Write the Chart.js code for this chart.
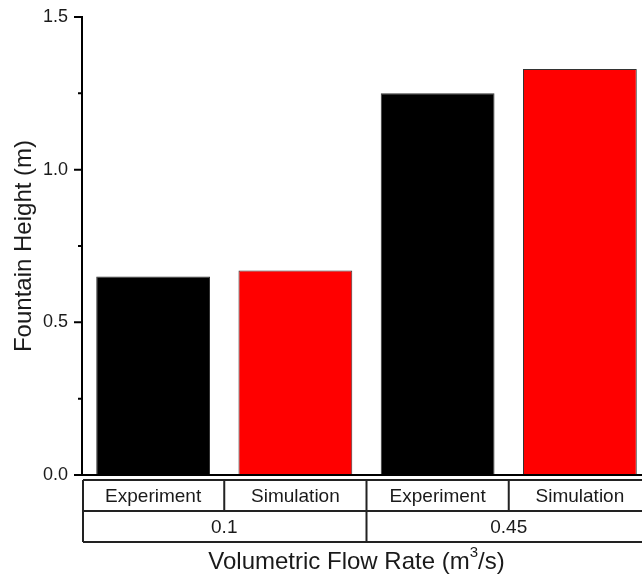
<!DOCTYPE html>
<html lang="en">
<head>
  <meta charset="UTF-8" />
  <title>Fountain Height vs Volumetric Flow Rate</title>
  <style>
    html, body { margin:0; padding:0; background:#fff; overflow:hidden; }
    #wrap { width:660px; height:577px; }
  </style>
  <script src="https://cdn.jsdelivr.net/npm/chart.js"></script>
</head>
<body>
<div id="wrap"><canvas id="chart" width="660" height="577"></canvas></div>
<script>
  // data
  const categories = ['Experiment', 'Simulation', 'Experiment', 'Simulation'];
  const flowRates = ['0.1', '0.45'];
  const heights = [0.65, 0.67, 1.25, 1.33];
  const barColors = ['#000000', '#ff0000', '#000000', '#ff0000'];
  const majorTicks = [0, 0.5, 1, 1.5];
  const minorTicks = [0.25, 0.75, 1.25];

  const FONT = '"Liberation Sans", Arial, sans-serif';
  const INK = '#1a1a1a';

  // axis line, tick marks, x baseline and the two-row category table under the plot
  const tablePlugin = {
    id: 'tableAxis',
    afterDraw(chart) {
      const ctx = chart.ctx, x = chart.scales.x, y = chart.scales.y, a = chart.chartArea;
      const y0 = y.getPixelForValue(0);
      ctx.save();
      ctx.strokeStyle = '#000'; ctx.lineWidth = 2;
      ctx.beginPath();
      ctx.moveTo(a.left, y.getPixelForValue(1.5) - 1); ctx.lineTo(a.left, y0);
      ctx.moveTo(a.left, y0); ctx.lineTo(a.right, y0);
      majorTicks.forEach(v => {
        const py = y.getPixelForValue(v);
        ctx.moveTo(a.left - 8, py); ctx.lineTo(a.left, py);
      });
      minorTicks.forEach(v => {
        const py = y.getPixelForValue(v);
        ctx.moveTo(a.left - 4, py); ctx.lineTo(a.left, py);
      });
      ctx.stroke();

      const cw = (x.right - x.left) / categories.length;
      const top = y0 + 5, mid = top + 31, bot = mid + 31;
      const left = a.left + 1, right = x.right;
      ctx.strokeStyle = '#222'; ctx.lineWidth = 2;
      ctx.beginPath();
      [top, mid, bot].forEach(r => { ctx.moveTo(left, r); ctx.lineTo(right, r); });
      ctx.moveTo(left, top); ctx.lineTo(left, bot);
      categories.forEach((c, i) => {
        if (i === 0) return;
        const bx = x.getPixelForValue(i) - cw / 2;
        ctx.moveTo(bx, top); ctx.lineTo(bx, i % 2 === 0 ? bot : mid);
      });
      ctx.stroke();
      ctx.fillStyle = INK; ctx.textAlign = 'center'; ctx.textBaseline = 'middle';
      ctx.font = '19px ' + FONT;
      categories.forEach((c, i) => ctx.fillText(c, x.getPixelForValue(i), (top + mid) / 2 + 1));
      flowRates.forEach((g, j) => {
        const cx = (x.getPixelForValue(2 * j) + x.getPixelForValue(2 * j + 1)) / 2;
        ctx.fillText(g, cx, (mid + bot) / 2 + 1);
      });
      // axis title with superscript
      ctx.font = '24px ' + FONT;
      const t1 = 'Volumetric Flow Rate (m', t2 = '3', t3 = '/s)';
      const w1 = ctx.measureText(t1).width, w3 = ctx.measureText(t3).width;
      ctx.font = '15px ' + FONT;
      const w2 = ctx.measureText(t2).width;
      const cx = (a.left + x.right) / 2 - 10, ty = bot + 20;
      let sx = cx - (w1 + w2 + w3) / 2;
      ctx.textAlign = 'left';
      ctx.font = '24px ' + FONT; ctx.fillText(t1, sx, ty); sx += w1;
      ctx.font = '15px ' + FONT; ctx.fillText(t2, sx, ty - 9); sx += w2;
      ctx.font = '24px ' + FONT; ctx.fillText(t3, sx, ty);
      ctx.restore();
    }
  };

  new Chart(document.getElementById('chart'), {
    type: 'bar',
    data: {
      labels: categories,
      datasets: [{
        data: heights,
        backgroundColor: barColors,
        borderColor: '#333',
        borderWidth: 1,
        barPercentage: 0.8,
        categoryPercentage: 1.0
      }]
    },
    options: {
      responsive: false,
      animation: false,
      layout: { padding: { top: 17, right: 9, bottom: 102, left: 0 } },
      plugins: { legend: { display: false }, tooltip: { enabled: false } },
      scales: {
        x: { display: false },
        y: {
          min: 0, max: 1.5,
          afterFit: s => { s.width = 82; },
          border: { display: false },
          grid: { drawOnChartArea: false, drawTicks: true, tickLength: 8, color: 'rgba(0,0,0,0)' },
          ticks: { stepSize: 0.5, padding: 6, color: INK, font: { family: FONT, size: 18 },
                   callback: v => v.toFixed(1) },
          title: { display: true, text: 'Fountain Height (m)', color: INK,
                   font: { family: FONT, size: 24 }, padding: { top: 10, bottom: 0 } }
        }
      }
    },
    plugins: [tablePlugin]
  });
</script>
</body>
</html>
